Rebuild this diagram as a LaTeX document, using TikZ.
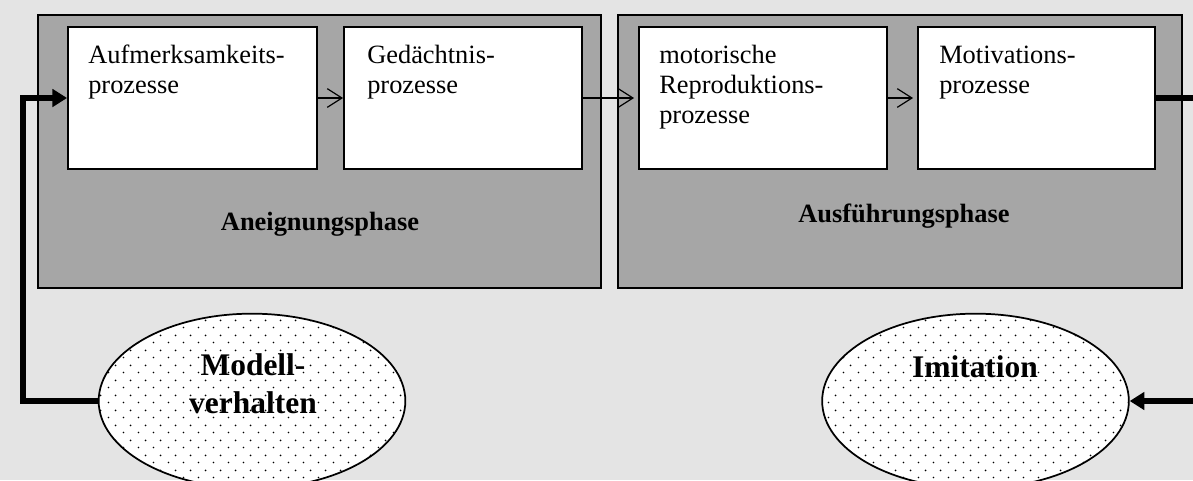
\documentclass[tikz,border=0pt]{standalone}
\usepackage{fontspec}
\setmainfont{Liberation Serif}
\usetikzlibrary{arrows.meta,shapes.geometric,fit,patterns.meta}
\definecolor{bgc}{RGB}{228,228,228}
\definecolor{phc}{RGB}{166,166,166}
\tikzdeclarepattern{
  name=hexdots, type=uncolored,
  bounding box={(0pt,0pt) and (11.25pt,11.25pt)},
  tile size={(11.25pt,11.25pt)},
  code={\fill (2.8pt,2.8pt) circle (0.75pt); \fill (8.425pt,8.425pt) circle (0.75pt);}
}
\tikzset{
 phasebox/.style={draw=black, line width=1.2pt, fill=phc, inner sep=0pt},
 procbox/.style={draw=black, line width=1.4pt, fill=white, inner sep=0pt},
 proctext/.style={anchor=north west, inner sep=0pt, align=left, font=\fontsize{19.8}{22.5}\selectfont},
 phasetext/.style={anchor=base, inner sep=0pt, font=\fontsize{19.8}{22.5}\selectfont\bfseries},
 elltext/.style={inner sep=0pt, align=center, font=\fontsize{23.6}{28.5}\selectfont\bfseries},
 ell/.style={ellipse, draw=black, line width=1.3pt, preaction={fill=white}, pattern=hexdots, pattern color=black, inner sep=0pt, minimum width=230pt, minimum height=131pt},
 thinarrow/.style={draw, line width=0.9pt, -{Straight Barb[length=11pt,width=14pt]}},
 thickarrow/.style={draw, line width=3.9pt, -{Triangle[length=11pt,width=13pt]}},
}
\begin{document}
\begin{tikzpicture}[x=0.75pt,y=-0.75pt]
\clip (0,0) rectangle (1193,480);
\fill[bgc] (0,0) rectangle (1193,480);
% phase boxes
\node[phasebox, fit={(38,15)(601,288)}] (ph1) {};
\node[phasebox, fit={(618,15)(1182,288)}] (ph2) {};
% process boxes
\node[procbox, fit={(68,27)(317,169)}] (b1) {};
\node[procbox, fit={(344,27)(582,169)}] (b2) {};
\node[procbox, fit={(639,27)(887,169)}] (b3) {};
\node[procbox, fit={(918,27)(1155,169)}] (b4) {};
% texts
\node[proctext] (t1) at (88,42) {\strut Aufmerksamkeits-\\prozesse};
\node[proctext] (t2) at (367,42) {\strut Gedächtnis-\\prozesse};
\node[proctext] (t3) at (659,42) {\strut motorische\\Reproduktions-\\prozesse};
\node[proctext] (t4) at (939,42) {\strut Motivations-\\prozesse};
\node[phasetext] (l1) at (320,230) {Aneignungsphase};
\node[phasetext] (l2) at (904,222) {Ausführungsphase};
% ellipses
\node[ell] (mv) at (252,401) {};
\node[ell] (im) at (975.5,401) {};
\node[elltext, anchor=north] (mvt) at (253,348.4) {\strut Modell-\\verhalten};
\node[elltext, anchor=base] (imt) at (975,377) {Imitation};
% thin arrows
\draw[thinarrow] (b1.east) -- (b2.west);
\draw[thinarrow, shorten >=3pt] (b2.east) -- (b3.west);
\draw[thinarrow, shorten >=3pt] (b3.east) -- (b4.west);
% thick connectors
\coordinate (lc) at (23,400);
\coordinate (rc) at (1205,400);
\draw[thickarrow] (mv.west) -- (mv.west -| lc) |- (b1.west);
\draw[thickarrow] (b4.east) -- (b4.east -| rc) |- (im.east);
\end{tikzpicture}
\end{document}
